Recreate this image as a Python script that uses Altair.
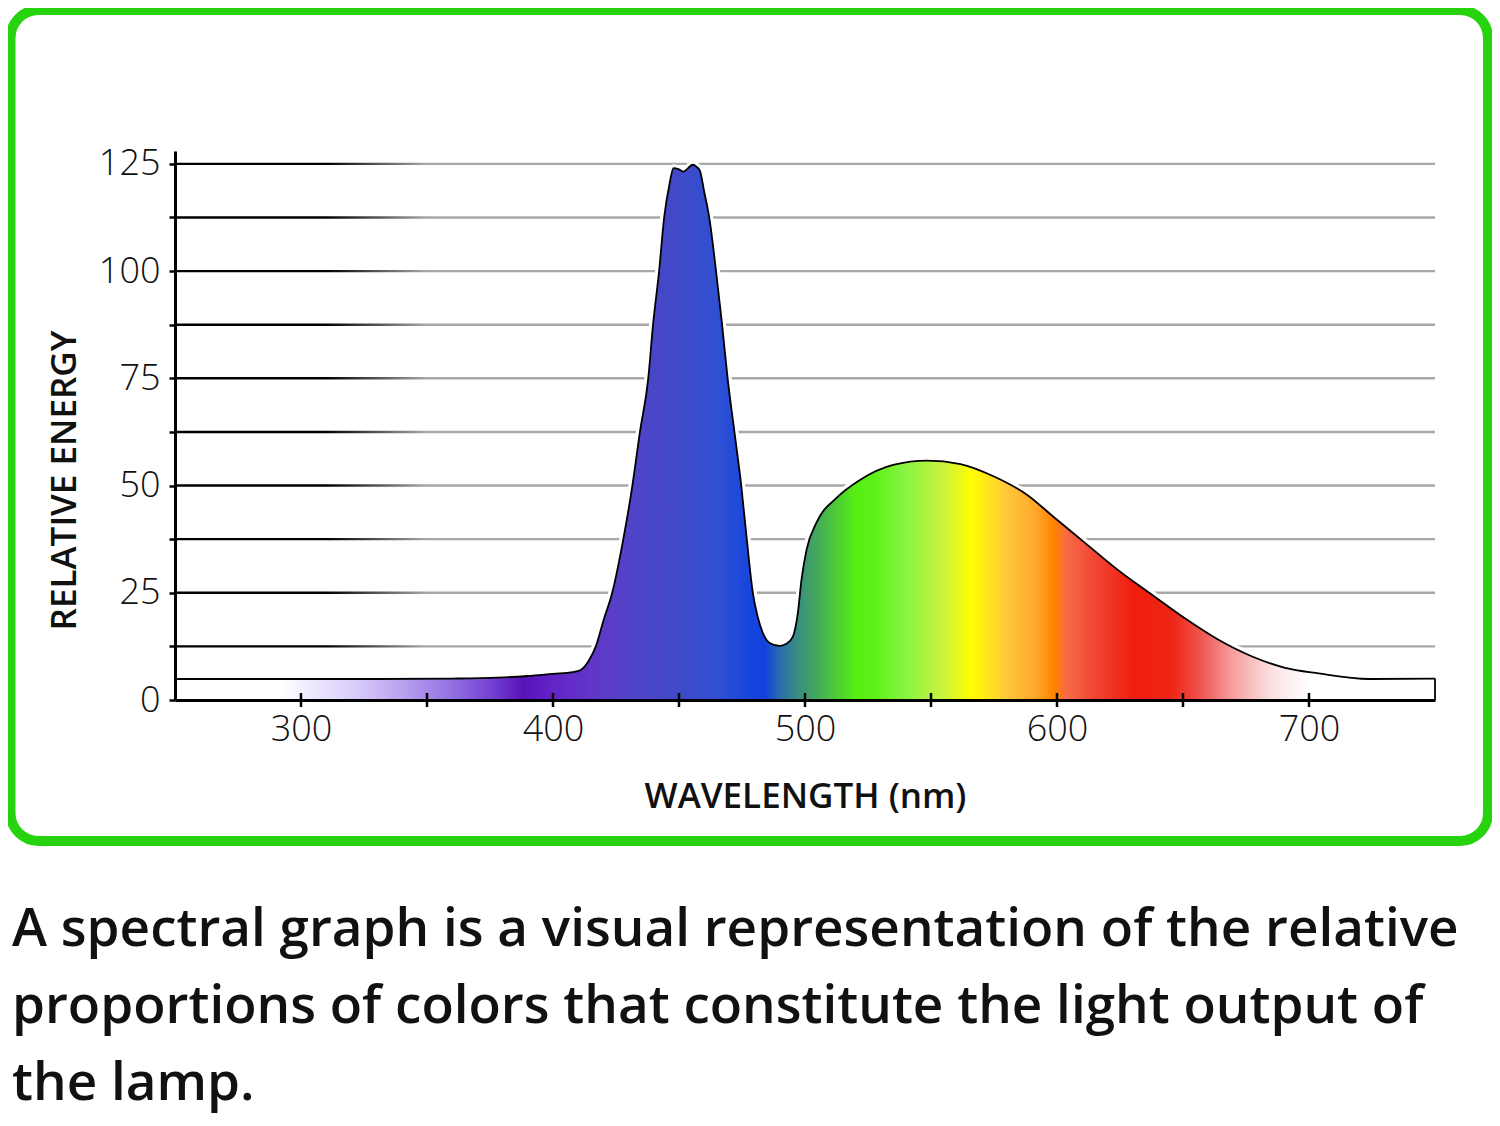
import altair as alt
import pandas as pd

# spectrum (wavelength in nm, relative energy)
wavelength = [250, 275, 300, 330, 360, 378, 390, 400, 408, 411, 414, 417, 420,
              423.5, 427.9, 431.5, 434.5, 437.8, 439.7, 442.1, 444.1, 446.3,
              447.8, 450, 451.8, 453.6, 455.4, 457, 458.3, 460, 462, 464.7,
              467.1, 469.3, 472, 474.7, 476.9, 479.3, 481.2, 483.3, 486, 489.9,
              492.6, 495.2, 497.2, 498.6, 500.6, 504.5, 512.5, 521.8, 535,
              548.4, 561.7, 575, 588.2, 598.8, 611, 624, 637.3, 650.6, 663.9,
              677.2, 690.5, 703.8, 723.7, 750]
energy = [4.9, 4.9, 4.9, 4.9, 5.0, 5.2, 5.6, 6.1, 6.5, 7.0, 9.0, 12.5, 18.5,
          25, 37.5, 50, 62.5, 75, 87.5, 100, 112.5, 120.5,
          124, 123.7, 123.2, 124.0, 124.8, 124.3, 123.4, 118.5, 112.5, 100,
          87.5, 75, 62.5, 50, 37.5, 25, 19.5, 15.6, 13.3, 12.6,
          13.1, 14.8, 20.5, 28, 35, 41.3, 47.1, 51.3, 54.8,
          55.8, 55.0, 52.1, 47.8, 42.6, 36.7, 30.4, 24.7, 19.1, 14.1,
          10.2, 7.5, 6.2, 4.9, 5.0]

# colour of the fill along the wavelength axis
stop_nm = [250, 292, 300, 320, 340, 360, 375, 388, 400, 415, 430, 450, 465,
           478, 484, 490, 497, 505, 512, 520, 527, 540, 555, 566, 580, 592,
           599, 604, 615, 630, 645, 655, 670, 685, 700, 750]
stop_colors = ['#ffffff', '#ffffff', '#f3f0ff', '#dcd0fa', '#b9a2f0', '#9270e2',
               '#7443d2', '#5a12b8', '#6224c6', '#6136c8', '#5243c8', '#3f4ac8',
               '#2f50d2', '#1646de', '#1240dc', '#2a6cb0', '#3a8c80', '#44aa5a',
               '#4cca38', '#55ee12', '#5cf018', '#8af442', '#ccf23c', '#ffff00',
               '#ffc83c', '#ffa52a', '#ff8200', '#f86a48', '#f04632', '#f01e10',
               '#ee2414', '#f04a44', '#f6a0a0', '#fbe0e0', '#ffffff', '#ffffff']

grid_levels = [12.5, 25, 37.5, 50, 62.5, 75, 87.5, 100, 112.5, 125]
y_ticks = [0, 12.5, 25, 37.5, 50, 62.5, 75, 87.5, 100, 112.5, 125]
x_ticks = [300, 350, 400, 450, 500, 550, 600, 650, 700]
x_labels = [300, 400, 500, 600, 700]

caption = [
    'A spectral graph is a visual representation of the relative',
    'proportions of colors that constitute the light output of',
    'the lamp.',
]

W, H = 1260, 549
LO, HI = 250, 750

spec = pd.DataFrame({'nm': wavelength, 'energy': energy})
end = spec.tail(1)
grid_df = pd.DataFrame({'level': grid_levels})
tick_df = pd.DataFrame({'nm': x_ticks})

xs = alt.Scale(domain=[LO, HI], nice=False, zero=False)
ys = alt.Scale(domain=[0, 128], nice=False)

spectrum_fill = alt.LinearGradient(
    gradient='linear', x1=0, x2=1, y1=0, y2=0,
    stops=[alt.GradientStop(color=c, offset=(n - LO) / (HI - LO))
           for n, c in zip(stop_nm, stop_colors)],
)
grid_fill = alt.LinearGradient(
    gradient='linear', x1=0, x2=1, y1=0, y2=0,
    stops=[alt.GradientStop(color='#000000', offset=0),
           alt.GradientStop(color='#000000', offset=0.12),
           alt.GradientStop(color='#a8a8a8', offset=0.2),
           alt.GradientStop(color='#a8a8a8', offset=1)],
)

grid = alt.Chart(grid_df).transform_calculate(
    lo='datum.level - 0.28', hi='datum.level + 0.28'
).mark_rect(fill=grid_fill).encode(
    x=alt.value(0), x2=alt.value(W),
    y=alt.Y('lo:Q', scale=ys), y2='hi:Q',
)

halo = alt.Chart(spec).mark_line(interpolate='monotone', color='white', strokeWidth=8).encode(
    x=alt.X('nm:Q', scale=xs),
    y=alt.Y('energy:Q', scale=ys),
)

area = alt.Chart(spec).mark_area(interpolate='monotone', fill=spectrum_fill).encode(
    x=alt.X('nm:Q', scale=xs, axis=alt.Axis(
        values=x_labels, format='d', ticks=False, grid=False, zindex=1,
        domainColor='black', domainWidth=3, labelFlush=False,
        labelFont='Open Sans', labelFontWeight=300, labelFontSize=36,
        labelColor='#111111', labelPadding=12,
        title='WAVELENGTH (nm)', titleFont='Open Sans', titleFontWeight=600,
        titleFontSize=35, titleColor='#111111', titleBaseline='alphabetic',
        titleY=107)),
    y=alt.Y('energy:Q', scale=ys, axis=alt.Axis(
        values=y_ticks, labelExpr="datum.value % 25 == 0 ? datum.label : ''",
        labelOverlap=False, grid=False, zindex=1,
        domainColor='black', domainWidth=3,
        tickColor='black', tickWidth=2.5, tickSize=6,
        labelFont='Open Sans', labelFontWeight=300, labelFontSize=36,
        labelColor='#111111', labelPadding=9,
        title='RELATIVE ENERGY', titleFont='Open Sans', titleFontWeight=600,
        titleFontSize=35, titleColor='#111111', titleAlign='center',
        titleBaseline='middle', titleX=-111, titleY=329)),
)

outline = alt.Chart(spec).mark_line(interpolate='monotone', color='black', strokeWidth=1.8).encode(
    x=alt.X('nm:Q', scale=xs),
    y=alt.Y('energy:Q', scale=ys),
)

end_rule = alt.Chart(end).mark_rule(color='black', strokeWidth=1.8).encode(
    x=alt.X('nm:Q', scale=xs),
    y=alt.Y('energy:Q', scale=ys),
    y2=alt.datum(0),
)

ticks = alt.Chart(tick_df).mark_rule(color='black', strokeWidth=2.5).encode(
    x=alt.X('nm:Q', scale=xs),
    y=alt.value(H - 7), y2=alt.value(H + 7),
)

frame = alt.Chart(pd.DataFrame({'frame': [0]})).mark_rect(
    filled=False, stroke='#27d30e', strokeWidth=10, cornerRadius=28
).encode(
    x=alt.value(-164.5), x2=alt.value(1313),
    y=alt.value(-141), y2=alt.value(690),
)

chart = alt.layer(frame, grid, halo, area, outline, end_rule, ticks).properties(
    width=W, height=H,
    autosize=alt.AutoSizeParams(type='none'),
    padding={'left': 167, 'top': 143, 'right': 57, 'bottom': 418},
    background='white',
    title=alt.TitleParams(
        text=caption, orient='bottom', anchor='start', frame='group',
        dx=-163, offset=58, font='Open Sans',
        fontWeight=600, fontSize=53, lineHeight=77, color='#111111',
    ),
).configure_view(strokeWidth=0)

chart.save('out.html', embed_options={'renderer': 'svg', 'actions': False})
